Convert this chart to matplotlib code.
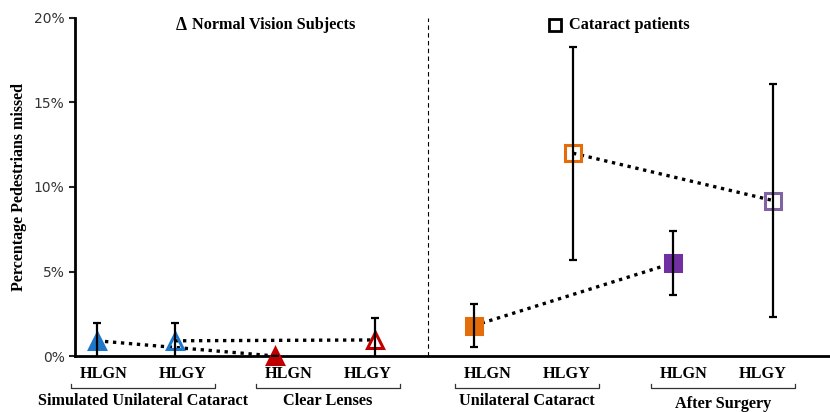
import matplotlib.pyplot as plt
from matplotlib.ticker import FuncFormatter

# data (percent of pedestrians missed)
conditions = ['HLGN', 'HLGY', 'HLGN', 'HLGY', 'HLGN', 'HLGY', 'HLGN', 'HLGY']
groups = ['Simulated Unilateral Cataract', 'Clear Lenses',
          'Unilateral Cataract', 'After Surgery']
means = [0.9, 0.9, 0.0, 0.95, 1.8, 12.0, 5.5, 9.2]
errors = [1.05, 1.05, 0.0, 1.3, 1.25, 6.3, 1.9, 6.9]
colors = ['#1f77c9', '#1f77c9', '#c00000', '#c00000',
          '#e46c0a', '#e46c0a', '#7030a0', '#8064a2']
filled = [True, False, True, False, True, False, True, False]
markers = ['^', '^', '^', '^', 's', 's', 's', 's']
# dotted links between points (index pairs)
links = [(0, 2), (1, 3), (4, 6), (5, 7)]

# layout
xpos = [0.97, 1.75, 2.75, 3.75, 4.74, 5.73, 6.73, 7.73]
group_centers = [1.43, 3.28, 5.27, 7.23]

serif = ['Liberation Serif', 'DejaVu Serif']
fs = 11.7

fig = plt.figure(figsize=(8.3, 4.12), dpi=100)
ax = fig.add_axes([75 / 830, 56 / 412, 755 / 830, 338 / 412])

for a, b in links:
    ax.plot([xpos[a], xpos[b]], [means[a], means[b]], color='black',
            linestyle=(0, (1, 1.4)), linewidth=2.4, zorder=2)

for i in range(len(means)):
    ax.errorbar(xpos[i], means[i], yerr=errors[i], fmt='none', ecolor='black',
                elinewidth=1.6, capsize=3, capthick=1.6, zorder=4)
    ax.plot(xpos[i], means[i], marker=markers[i],
            markersize=12 if markers[i] == '^' else 11.5,
            markerfacecolor=colors[i] if filled[i] else 'none',
            markeredgecolor=colors[i], markeredgewidth=2.2,
            linestyle='none', zorder=3, clip_on=False)

ax.axvline(4.28, color='black', linestyle=(0, (4, 3)), linewidth=0.8)

ax.set_xlim(0.75, 8.30)
ax.set_ylim(0, 20)
ax.set_yticks([0, 5, 10, 15, 20])
ax.yaxis.set_major_formatter(FuncFormatter(lambda v, p: '%d%%' % v))
ax.tick_params(axis='y', labelsize=10, direction='out', length=4, width=1.5,
               colors='#222222', labelcolor='#333333')
ax.set_xticks([])
for s in ['top', 'right']:
    ax.spines[s].set_visible(False)
for s in ['left', 'bottom']:
    ax.spines[s].set_linewidth(2)
ax.set_ylabel('Percentage Pedestrians missed', family=serif,
              fontweight='bold', fontsize=11.5, labelpad=5)

# category labels, brackets and group names below the axis
tr = ax.get_xaxis_transform()
for g, c in enumerate(group_centers):
    ax.text(c - 0.39, -0.052, conditions[2 * g], transform=tr, ha='center',
            va='center', family=serif, fontweight='bold', fontsize=fs)
    ax.text(c + 0.40, -0.052, conditions[2 * g + 1], transform=tr, ha='center',
            va='center', family=serif, fontweight='bold', fontsize=fs)
    ax.plot([c - 0.72, c - 0.72, c + 0.72, c + 0.72],
            [-0.082, -0.094, -0.094, -0.082], transform=tr, color='#333333',
            linewidth=0.9, clip_on=False)
    ax.text(c, -0.132 if g < 3 else -0.142, groups[g], transform=tr,
            ha='center', va='center', family=serif, fontweight='bold',
            fontsize=fs)

# panel headings
ax.text(1.755, 0.979, '\u0394', transform=tr, ha='left', va='center',
        family=serif, fontweight='bold', fontsize=fs + 1)
ax.text(1.92, 0.979, 'Normal Vision Subjects', transform=tr, ha='left',
        va='center', family=serif, fontweight='bold', fontsize=fs)
ax.plot([5.55], [0.979], transform=tr, marker='s', markersize=9,
        markerfacecolor='none', markeredgecolor='black', markeredgewidth=2,
        clip_on=False)
ax.text(5.69, 0.979, 'Cataract patients', transform=tr, ha='left',
        va='center', family=serif, fontweight='bold', fontsize=fs)

fig.savefig('out.png', dpi=100)
